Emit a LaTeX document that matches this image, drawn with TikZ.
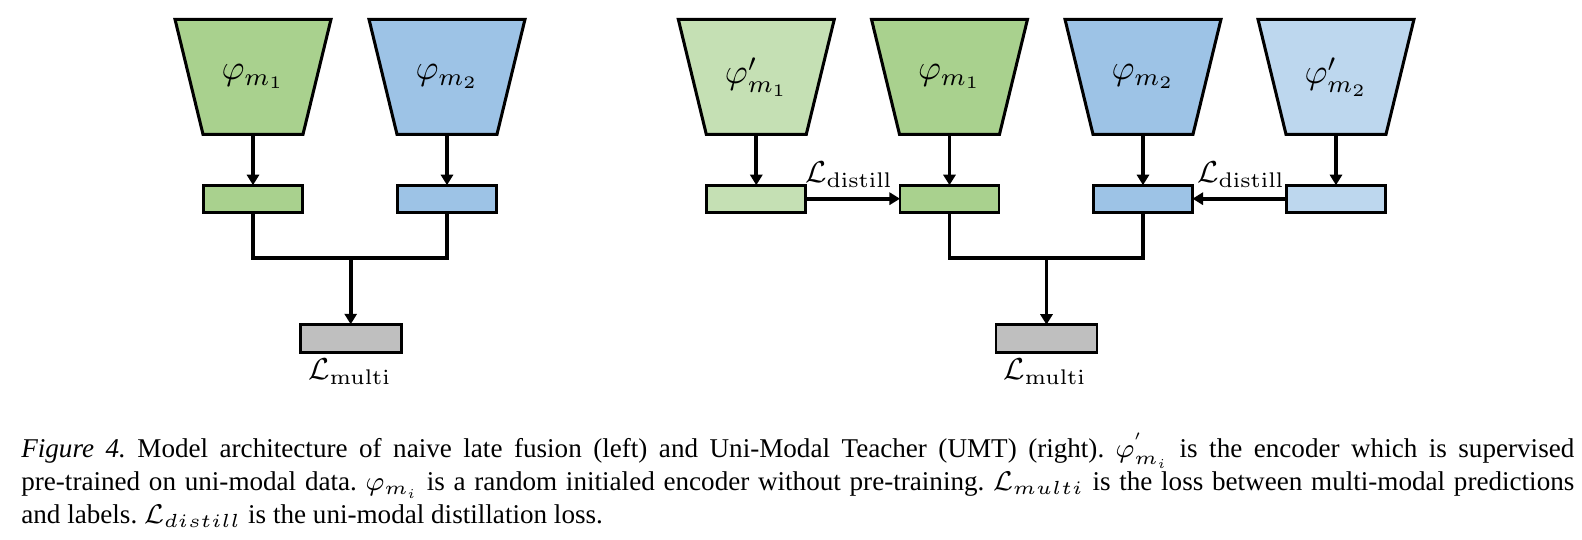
\RequirePackage{fix-cm}
\documentclass[tikz,border=0pt]{standalone}
\usepackage[no-math]{fontspec}
\setmainfont{Liberation Serif}
\usetikzlibrary{arrows.meta,backgrounds}
\def\pxu{0.3135pt}
\definecolor{gA}{HTML}{A9D18E}
\definecolor{gL}{HTML}{C5E0B4}
\definecolor{bA}{HTML}{9DC3E6}
\definecolor{bL}{HTML}{BDD7EE}
\definecolor{grey1}{HTML}{BFBFBF}
\frenchspacing
\begin{document}
\begin{tikzpicture}[x=0.3135pt,y=-0.3135pt,
  enc/.style={rectangle, minimum width=100*\pxu, minimum height=115*\pxu,
    inner sep=0pt, outer sep=0pt, font=\fontsize{11}{13}\selectfont},
  encline/.style={draw, line width=0.95pt, line join=miter},
  feat/.style={rectangle, draw, line width=0.85pt, minimum width=99*\pxu,
    minimum height=27*\pxu, inner sep=0pt, outer sep=0pt},
  conn/.style={line width=1.15pt},
  arr/.style={conn, -{Triangle[length=3.3pt,width=3.8pt]}},
  lbl/.style={font=\fontsize{9.5}{11}\selectfont, inner sep=0pt},
  captxt/.style={font=\fontsize{8.5}{10.35}\selectfont, inner sep=0pt, anchor=base west}
]
\useasboundingbox (0,0) rectangle (1582,540);

% ---------- left: naive late fusion ----------
\node[enc] (e1) at (253,76.8) {$\varphi_{m_1}$};
\node[enc] (e2) at (447,76.8) {$\varphi_{m_2}$};
\node[feat, fill=gA] (f1) at (253,198.7) {};
\node[feat, fill=bA] (f2) at (447,198.7) {};
\node[feat, fill=grey1, minimum width=101*\pxu, minimum height=28*\pxu] (g1) at (350.7,338.3) {};
\node[lbl, anchor=base] (lm1) at (350,380) {$\mathcal{L}_{\mathrm{multi}}$};
\coordinate (j1) at (350.7,257.7);
\draw[arr] (e1.south) -- (f1.north);
\draw[arr] (e2.south) -- (f2.north);
\draw[conn] (f1.south) |- (j1) -| (f2.south);
\draw[arr] (j1) -- (g1.north);

% ---------- right: Uni-Modal Teacher ----------
\node[enc] (e3) at (756.3,76.8) {$\varphi'_{m_1}$};
\node[enc] (e4) at (949.5,76.8) {$\varphi_{m_1}$};
\node[enc] (e5) at (1143,76.8) {$\varphi_{m_2}$};
\node[enc] (e6) at (1336,76.8) {$\varphi'_{m_2}$};
\node[feat, fill=gL] (f3) at (756.3,198.7) {};
\node[feat, fill=gA] (f4) at (949.5,198.7) {};
\node[feat, fill=bA] (f5) at (1143,198.7) {};
\node[feat, fill=bL] (f6) at (1336,198.7) {};
\node[feat, fill=grey1, minimum width=101*\pxu, minimum height=28*\pxu] (g2) at (1046.5,338.7) {};
\node[lbl, anchor=base] (lm2) at (1045,380) {$\mathcal{L}_{\mathrm{multi}}$};
\node[lbl, anchor=base] (ld1) at (849,183) {$\mathcal{L}_{\mathrm{distill}}$};
\node[lbl, anchor=base] (ld2) at (1241,183) {$\mathcal{L}_{\mathrm{distill}}$};
\coordinate (j2) at (1046.5,258.3);
\draw[arr] (e3.south) -- (f3.north);
\draw[arr] (e4.south) -- (f4.north);
\draw[arr] (e5.south) -- (f5.north);
\draw[arr] (e6.south) -- (f6.north);
\draw[arr] (f3.east) -- (f4.west);
\draw[arr] (f6.west) -- (f5.east);
\draw[conn] (f4.south) |- (j2) -| (f5.south);
\draw[arr] (j2) -- (g2.north);

% ---------- encoder trapezoids (behind their labels) ----------
\begin{pgfonlayer}{background}
\foreach \n/\c in {e1/gA, e2/bA, e3/gL, e4/gA, e5/bA, e6/bL}
  \draw[encline, fill=\c] ([xshift=-28*\pxu]\n.north west) -- ([xshift=28*\pxu]\n.north east)
     -- (\n.south east) -- (\n.south west) -- cycle;
\end{pgfonlayer}

% ---------- caption ----------
\node[captxt] (cap1) at (20.7,458) {\makebox[486.9pt][s]{\textit{Figure 4.} Model architecture of naive late fusion (left) and Uni-Modal Teacher (UMT) (right). $\varphi_{m_i}^{'}$ is the encoder which is supervised}};
\node[captxt] (cap2) at (20.7,491) {\makebox[486.9pt][s]{pre-trained on uni-modal data. $\varphi_{m_i}$ is a random initialed encoder without pre-training. $\mathcal{L}_{multi}$ is the loss between multi-modal predictions}};
\node[captxt] (cap3) at (20.7,524) {and labels. $\mathcal{L}_{distill}$ is the uni-modal distillation loss.};
\end{tikzpicture}
\end{document}
